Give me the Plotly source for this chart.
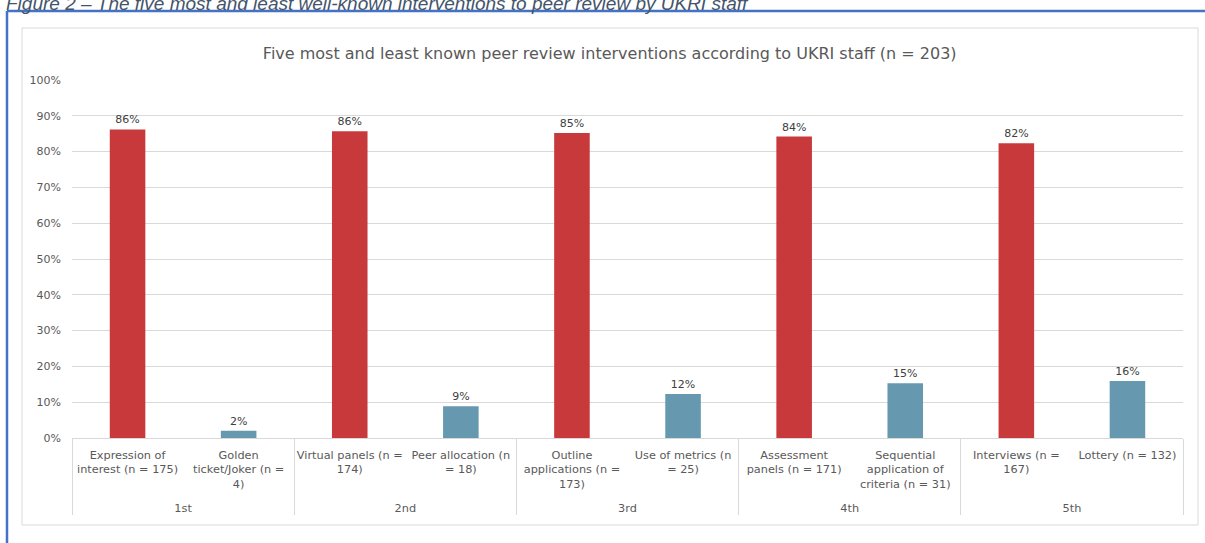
import plotly.graph_objects as go

groups = ["1st", "1st", "2nd", "2nd", "3rd", "3rd", "4th", "4th", "5th", "5th"]
labels = [
    "Expression of<br>interest (n = 175)",
    "Golden<br>ticket/Joker (n =<br>4)",
    "Virtual panels (n =<br>174)",
    "Peer allocation (n<br>= 18)",
    "Outline<br>applications (n =<br>173)",
    "Use of metrics (n<br>= 25)",
    "Assessment<br>panels (n = 171)",
    "Sequential<br>application of<br>criteria (n = 31)",
    "Interviews (n =<br>167)",
    "Lottery (n = 132)",
]
values = [0.862, 0.020, 0.857, 0.089, 0.852, 0.123, 0.842, 0.153, 0.823, 0.159]
kind = ["most", "least"] * 5
value_text = ["86%", "2%", "86%", "9%", "85%", "12%", "84%", "15%", "82%", "16%"]

RED = "#C8393B"
BLUE = "#6699B0"
colors = [RED if k == "most" else BLUE for k in kind]

FONT = "DejaVu Sans"
GRAY = "#595959"

# trailing empty line gives the group row the spacing seen in the reference
tick_labels = [lab + "<br> " for lab in labels]

fig = go.Figure(
    go.Bar(
        x=[groups, tick_labels],
        y=values,
        marker=dict(color=colors, line=dict(width=0)),
        text=value_text,
        textposition="outside",
        textfont=dict(family=FONT, size=11, color="#404040"),
        cliponaxis=False,
        width=0.32,
        hoverinfo="skip",
    )
)

fig.update_layout(
    width=1205,
    height=543,
    margin=dict(l=72, r=22, t=80, b=105),
    paper_bgcolor="white",
    plot_bgcolor="white",
    showlegend=False,
    font=dict(family=FONT, size=11, color=GRAY),
    title=dict(
        text="Five most and least known peer review interventions according to UKRI staff (n = 203)",
        x=0.506,
        xanchor="center",
        y=1 - 53 / 543,
        yanchor="middle",
        font=dict(family=FONT, size=16, color=GRAY),
    ),
    xaxis=dict(
        type="multicategory",
        automargin=False,
        tickangle=0,
        showgrid=False,
        showline=True,
        linecolor="#d9d9d9",
        linewidth=1,
        showdividers=True,
        dividercolor="#d9d9d9",
        dividerwidth=1,
        tickfont=dict(family=FONT, size=11.3, color=GRAY),
        ticks="",
        ticklabelstandoff=6,
    ),
    yaxis=dict(
        range=[0, 1],
        tickvals=[i / 10 for i in range(11)],
        ticktext=[f"{i * 10}%" for i in range(11)],
        showgrid=True,
        gridcolor="#d9d9d9",
        gridwidth=1,
        zeroline=False,
        showline=False,
        automargin=False,
        tickfont=dict(family=FONT, size=11, color=GRAY),
        ticklabelstandoff=10,
    ),
    shapes=[
        # outer chart border
        dict(type="rect", xref="paper", yref="paper",
             x0=(22 - 72) / 1111, x1=(1198 - 72) / 1111,
             y0=(438 - 525) / 358, y1=(438 - 28) / 358,
             line=dict(color="#d9d9d9", width=1), layer="below"),
        # blue frame lines
        dict(type="line", xref="paper", yref="paper",
             x0=(7 - 72) / 1111, x1=(1210 - 72) / 1111,
             y0=(438 - 11) / 358, y1=(438 - 11) / 358,
             line=dict(color="#4472C4", width=2.5)),
        dict(type="line", xref="paper", yref="paper",
             x0=(7 - 72) / 1111, x1=(7 - 72) / 1111,
             y0=(438 - 11) / 358, y1=(438 - 560) / 358,
             line=dict(color="#4472C4", width=2.5)),
    ],
    annotations=[
        dict(
            text="<i>Figure 2 – The five most and least well-known interventions to peer review by UKRI staff</i>",
            xref="paper", yref="paper",
            x=(4 - 72) / 1111, y=(438 - 16) / 358,
            xanchor="left", yanchor="bottom",
            showarrow=False,
            font=dict(family="Liberation Sans", size=19, color="#44546A"),
        )
    ],
)

fig.write_html("out.html")
